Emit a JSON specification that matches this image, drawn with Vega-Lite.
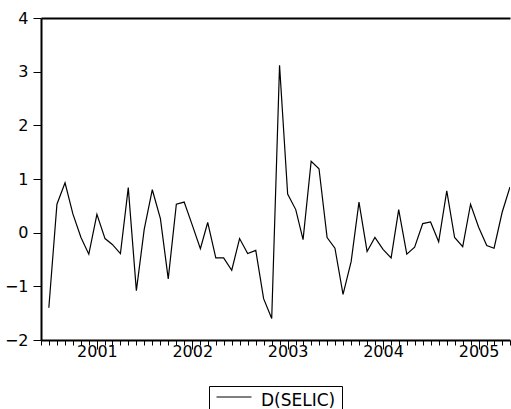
{
  "$schema": "https://vega.github.io/schema/vega-lite/v6.json",
  "width": 469,
  "height": 322,
  "autosize": {"type": "none"},
  "padding": {"left": 41, "top": 18, "right": 1, "bottom": 69},
  "background": "white",
  "config": {"view": {"stroke": null}, "font": "DejaVu Sans"},
  "data": {"values": [
    {"date": "2000/07/01", "value": -1.40},
    {"date": "2000/08/01", "value": 0.53},
    {"date": "2000/09/01", "value": 0.93},
    {"date": "2000/10/01", "value": 0.35},
    {"date": "2000/11/01", "value": -0.09},
    {"date": "2000/12/01", "value": -0.40},
    {"date": "2001/01/01", "value": 0.34},
    {"date": "2001/02/01", "value": -0.11},
    {"date": "2001/03/01", "value": -0.22},
    {"date": "2001/04/01", "value": -0.39},
    {"date": "2001/05/01", "value": 0.84},
    {"date": "2001/06/01", "value": -1.08},
    {"date": "2001/07/01", "value": 0.06},
    {"date": "2001/08/01", "value": 0.80},
    {"date": "2001/09/01", "value": 0.26},
    {"date": "2001/10/01", "value": -0.86},
    {"date": "2001/11/01", "value": 0.53},
    {"date": "2001/12/01", "value": 0.57},
    {"date": "2002/01/01", "value": 0.14},
    {"date": "2002/02/01", "value": -0.30},
    {"date": "2002/03/01", "value": 0.19},
    {"date": "2002/04/01", "value": -0.47},
    {"date": "2002/05/01", "value": -0.47},
    {"date": "2002/06/01", "value": -0.70},
    {"date": "2002/07/01", "value": -0.11},
    {"date": "2002/08/01", "value": -0.39},
    {"date": "2002/09/01", "value": -0.33},
    {"date": "2002/10/01", "value": -1.23},
    {"date": "2002/11/01", "value": -1.60},
    {"date": "2002/12/01", "value": 3.12},
    {"date": "2003/01/01", "value": 0.72},
    {"date": "2003/02/01", "value": 0.43},
    {"date": "2003/03/01", "value": -0.13},
    {"date": "2003/04/01", "value": 1.33},
    {"date": "2003/05/01", "value": 1.19},
    {"date": "2003/06/01", "value": -0.09},
    {"date": "2003/07/01", "value": -0.29},
    {"date": "2003/08/01", "value": -1.15},
    {"date": "2003/09/01", "value": -0.54},
    {"date": "2003/10/01", "value": 0.57},
    {"date": "2003/11/01", "value": -0.35},
    {"date": "2003/12/01", "value": -0.09},
    {"date": "2004/01/01", "value": -0.31},
    {"date": "2004/02/01", "value": -0.47},
    {"date": "2004/03/01", "value": 0.43},
    {"date": "2004/04/01", "value": -0.40},
    {"date": "2004/05/01", "value": -0.27},
    {"date": "2004/06/01", "value": 0.17},
    {"date": "2004/07/01", "value": 0.20},
    {"date": "2004/08/01", "value": -0.17},
    {"date": "2004/09/01", "value": 0.78},
    {"date": "2004/10/01", "value": -0.09},
    {"date": "2004/11/01", "value": -0.26},
    {"date": "2004/12/01", "value": 0.53},
    {"date": "2005/01/01", "value": 0.10},
    {"date": "2005/02/01", "value": -0.24},
    {"date": "2005/03/01", "value": -0.29},
    {"date": "2005/04/01", "value": 0.38},
    {"date": "2005/05/01", "value": 0.85}
  ]},
  "resolve": {"axis": {"x": "independent"}},
  "layer": [
    {
      "mark": {"type": "line", "strokeWidth": 1.2, "clip": true},
      "encoding": {
        "x": {
          "field": "date", "type": "temporal",
          "scale": {"domain": [{"year": 2000, "month": 6, "date": 1}, {"year": 2005, "month": 5, "date": 1}], "nice": false},
          "axis": {
            "tickCount": {"interval": "month", "step": 1},
            "labelExpr": "month(datum.value) == 0 ? timeFormat(datum.value, '%Y') : ''",
            "tickSize": {"condition": {"test": "month(datum.value) == 0", "value": 9}, "value": 5},
            "grid": false, "title": null,
            "domainColor": "black", "domainWidth": 2,
            "tickColor": "black", "tickWidth": 1,
            "labelFontSize": 16, "labelColor": "black", "labelFont": "DejaVu Sans",
            "labelPadding": -6, "labelFlush": false, "labelOverlap": false
          }
        },
        "y": {
          "field": "value", "type": "quantitative",
          "scale": {"domain": [-2, 4], "nice": false, "zero": false},
          "axis": {
            "values": [-2, -1, 0, 1, 2, 3, 4],
            "grid": false, "title": null,
            "domainColor": "black", "domainWidth": 2,
            "tickColor": "black", "tickWidth": 1, "tickSize": 8,
            "labelFontSize": 16, "labelColor": "black", "labelFont": "DejaVu Sans",
            "labelPadding": 5
          }
        },
        "color": {
          "datum": "D(SELIC)", "type": "nominal",
          "scale": {"range": ["black"]},
          "legend": {
            "orient": "none", "legendX": 168, "legendY": 368,
            "title": null, "strokeColor": "black", "padding": 6,
            "symbolType": "M-1,-0.5H4", "symbolSize": 196, "symbolStrokeWidth": 1,
            "symbolStrokeColor": "black",
            "labelFontSize": 17, "labelColor": "black", "labelFont": "DejaVu Sans", "labelOffset": 29
          }
        }
      }
    },
    {
      "mark": {"type": "point", "opacity": 0},
      "encoding": {
        "x": {
          "field": "date", "type": "temporal",
          "axis": {"orient": "top", "labels": false, "ticks": false, "grid": false, "title": null, "domainColor": "black", "domainWidth": 2}
        }
      }
    }
  ]
}
